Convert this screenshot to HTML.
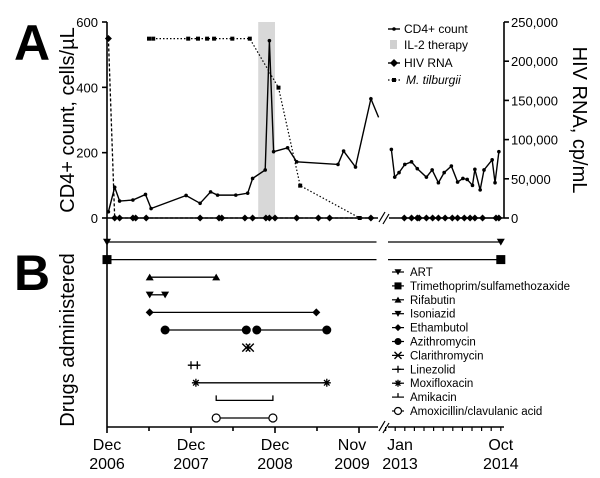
<!DOCTYPE html>
<html><head><meta charset="utf-8"><style>
html,body{margin:0;padding:0;background:#fff;}
svg{display:block;font-family:"Liberation Sans",Arial,sans-serif;}
</style></head><body>
<svg id="chart" width="600" height="478" viewBox="0 0 600 478"></svg>
<script>
// ---- data (x in months since Dec 2006) ----
const cd4Months=[0.2,1.1,1.8,3.7,5.5,6.3,11.3,13.3,14.8,15.8,18.4,20.1,20.8,22.6,23.2,23.8,25.8,27.1,33,33.8,35.5,37.7,38.8];
const cd4Values=[19,94,52,55,72,29,69,45,80,70,70,76,121,147,543,203,215,172,164,205,156,365,308];
const cd4Months2=[71.2,71.9,72.8,74,75.4,76.6,78.5,79.7,81,82.2,83.7,85,86.1,87,88.1,88.6,89.7,90.5,92.2,92.8,93.6];
const cd4Values2=[210,125,139,164,172,151,125,147,108,139,159,110,121,118,100,149,86,147,178,108,203];
const hivMonths=[0.2,1.1,1.8,3.7,4.1,5.6,13.3,16,16.4,19.7,20.8,22.7,23.2,24,27.1,30.2,31.8,37.7];
const hivValues=[229000,0,0,0,0,0,0,0,0,0,0,0,0,0,0,0,0,0];
const hivMonths2=[73.9,75.4,76.6,77,78.5,79.8,81,82.4,83.9,85,86.4,87.6,88.6,90.2,93,93.6];
const hivValues2=[0,0,0,0,0,0,0,0,0,0,0,0,0,0,0,0];
const mtMonths=[6,6.6,11.6,13,14.3,15.3,17.9,20.4,24.5,27.6,36.1];
const mtValues=[549,549,549,549,549,549,549,549,399,99,0];
const il2Range=[21.6,24];
const leftTicks=[0,200,400,600];
const rightTicks=[0,50000,100000,150000,200000,250000];
const rightTickLabels=["0","50,000","100,000","150,000","200,000","250,000"];
const drugNames=["ART","Trimethoprim/sulfamethozaxide","Rifabutin","Isoniazid","Ethambutol","Azithromycin","Clarithromycin","Linezolid","Moxifloxacin","Amikacin","Amoxicillin/clavulanic acid"];
const drugMarkers=["tri-down","square","tri-up","tri-down","diamond","circle","x","plus","star","tick","ocircle"];
const drugSegments=[[[0,38.5],[72,94]],[[0,38.5],[72,94]],[[6.1,15.6]],[[6.1,8.3]],[[6.1,29.9]],[[8.3,19.9],[21.4,31.4]],[[19.9,20.4]],[[12,12.9]],[[12.7,31.4]],[[15.6,23.7]],[[15.6,23.7]]];
const xTickMonths=[0,12,24,35,73,94];
const xTickLabels=[["Dec","2006"],["Dec","2007"],["Dec","2008"],["Nov","2009"],["Jan","2013"],["Oct","2014"]];

const svg=document.getElementById('chart');
const NS='http://www.w3.org/2000/svg';
function el(t,a,p){const e=document.createElementNS(NS,t);for(const k in a)e.setAttribute(k,a[k]);(p||svg).appendChild(e);return e;}
function xs(m){return m<=40?107+7*m:400+4.8*(m-73);}
const yL=v=>218-v*196/600;
const yR=v=>218-v*196/250000;
function txt(x,y,s,a,name){const t=el('text',Object.assign({x:x,y:y,fill:'#000'},a));t.textContent=s;return t;}

function marker(type,x,y,s,name){
  let e;const g=el('g',{});
  if(type==='tri-down')e=el('polygon',{points:`${x-s},${y-s*0.8} ${x+s},${y-s*0.8} ${x},${y+s*0.9}`,fill:'#000'},g);
  else if(type==='tri-up')e=el('polygon',{points:`${x-s},${y+s*0.8} ${x+s},${y+s*0.8} ${x},${y-s*0.9}`,fill:'#000'},g);
  else if(type==='square')e=el('rect',{x:x-s,y:y-s,width:2*s,height:2*s,fill:'#000'},g);
  else if(type==='diamond')e=el('polygon',{points:`${x},${y-s} ${x+s},${y} ${x},${y+s} ${x-s},${y}`,fill:'#000'},g);
  else if(type==='circle')e=el('circle',{cx:x,cy:y,r:s,fill:'#000'},g);
  else if(type==='ocircle')e=el('circle',{cx:x,cy:y,r:s,fill:'#fff',stroke:'#000','stroke-width':1.2},g);
  else if(type==='x'){el('path',{d:`M${x-s},${y-s}L${x+s},${y+s}M${x+s},${y-s}L${x-s},${y+s}`,stroke:'#000','stroke-width':1.4},g);}
  else if(type==='plus'){el('path',{d:`M${x},${y-s}L${x},${y+s}M${x-s*0.8},${y}L${x+s*0.8},${y}`,stroke:'#000','stroke-width':1.3},g);}
  else if(type==='star'){el('path',{d:`M${x-s},${y}L${x+s},${y}M${x},${y-s}L${x},${y+s}M${x-s*.7},${y-s*.7}L${x+s*.7},${y+s*.7}M${x+s*.7},${y-s*.7}L${x-s*.7},${y+s*.7}`,stroke:'#000','stroke-width':1.3},g);}
  else if(type==='tick'){el('path',{d:`M${x},${y}L${x},${y-s}`,stroke:'#000','stroke-width':1.3},g);}
  
  
  return g;
}

// panel letters
txt(14,60,'A',{'font-size':50,'font-weight':'bold'},'panel-a-label');
txt(14,290,'B',{'font-size':50,'font-weight':'bold'},'panel-b-label');

// IL-2 shading
const il2=el('rect',{x:xs(il2Range[0]),y:22,width:xs(il2Range[1])-xs(il2Range[0]),height:196,fill:'#d8d8d8'});



// axes top
const axes=el('g',{stroke:'#000','stroke-width':1.6,fill:'none'});


el('path',{d:'M107,22L107,427'},axes);
el('path',{d:'M504,22L504,218'},axes);
el('path',{d:'M107,218L378,218M389,218L504,218'},axes);
el('path',{d:'M379,222L385,212M383,224L389,214','stroke-width':1.2},axes);
leftTicks.forEach(v=>{el('path',{d:`M102,${yL(v)}L107,${yL(v)}`},axes);
  txt(98,yL(v)+5,String(v),{'font-size':13,'text-anchor':'end'},'left-tick-label');});
rightTicks.forEach((v,i)=>{el('path',{d:`M504,${yR(v)}L509,${yR(v)}`},axes);
  txt(511,yR(v)+5,rightTickLabels[i],{'font-size':13},'right-tick-label');});
txt(0,0,'CD4+ count, cells/µL',{'font-size':20,'text-anchor':'middle',transform:'translate(74,120) rotate(-90)'},'left-axis-title');
txt(0,0,'HIV RNA, cp/mL',{'font-size':20,'text-anchor':'middle',transform:'translate(573,120) rotate(90)'},'right-axis-title');

// series
function line(ms,vs,yf,attrs,name){const d=ms.map((m,i)=>(i?'L':'M')+xs(m)+','+yf(vs[i])).join('');const p=el('path',Object.assign({d:d,fill:'none',stroke:'#000'},attrs));}
line(mtMonths,mtValues,yL,{'stroke-width':1.2,'stroke-dasharray':'1.5,2'},'m-tilburgii-line');
mtMonths.forEach((m,i)=>{const r=el('rect',{x:xs(m)-2,y:yL(mtValues[i])-2,width:4,height:4,fill:'#000'});});
line(hivMonths,hivValues,yR,{'stroke-width':1.3,'stroke-dasharray':'3,2'},'hiv-rna-line');
line(hivMonths2,hivValues2,yR,{'stroke-width':1.3},'hiv-rna-line-2');
hivMonths.forEach((m,i)=>marker('diamond',xs(m),yR(hivValues[i]),3.5,'hiv-rna-point'));
hivMonths2.forEach((m,i)=>marker('diamond',xs(m),yR(hivValues2[i]),3.5,'hiv-rna-point'));
line(cd4Months,cd4Values,yL,{'stroke-width':1.4},'cd4-line');
line(cd4Months2,cd4Values2,yL,{'stroke-width':1.4},'cd4-line-2');
cd4Months.forEach((m,i)=>{if(i<cd4Months.length-1)marker('circle',xs(m),yL(cd4Values[i]),1.8,'cd4-point');});
cd4Months2.forEach((m,i)=>marker('circle',xs(m),yL(cd4Values2[i]),1.8,'cd4-point'));

// top legend
const lg=el('g',{});
el('path',{d:'M388,29L400,29',stroke:'#000','stroke-width':1.4},lg);el('circle',{cx:394,cy:29,r:1.8,fill:'#000'},lg);
txt(404,33,'CD4+ count',{'font-size':12},'legend-cd4');
el('rect',{x:390,y:40,width:7,height:9,fill:'#d0d0d0'},lg);
txt(404,49,'IL-2 therapy',{'font-size':12},'legend-il2');
el('path',{d:'M388,63L400,63',stroke:'#000','stroke-width':1.4},lg);el('polygon',{points:'394,59 398,63 394,67 390,63',fill:'#000'},lg);
txt(404,67,'HIV RNA',{'font-size':12},'legend-hiv');
el('path',{d:'M388,80L400,80',stroke:'#000','stroke-width':1.2,'stroke-dasharray':'1.5,2'},lg);el('rect',{x:392,y:78,width:4,height:4,fill:'#000'},lg);
txt(406,84,'M. tilburgii',{'font-size':12,'font-style':'italic'},'legend-mt');

// bottom panel
const rowY=i=>242+i*17.6;
const ba=el('g',{stroke:'#000','stroke-width':1.6,fill:'none'});

el('path',{d:'M107,427L378,427M388,427L504,427'},ba);
el('path',{d:'M379,431L385,421M383,433L389,423','stroke-width':1.2},ba);
for(let m=0;m<=36;m+=6)el('path',{d:`M${xs(m)},427L${xs(m)},${m%12===0?433:431}`},ba);
for(let m=70;m<=94;m+=2)el('path',{d:`M${xs(m)},427L${xs(m)},431`,'stroke-width':1.2},ba);
xTickMonths.forEach((m,i)=>{txt(xs(m),450,xTickLabels[i][0],{'font-size':16,'text-anchor':'middle'},'x-tick-label');txt(xs(m),469,xTickLabels[i][1],{'font-size':16,'text-anchor':'middle'},'x-tick-label');});
txt(0,0,'Drugs administered',{'font-size':20,'text-anchor':'middle',transform:'translate(74,340) rotate(-90)'},'bottom-axis-title');

drugSegments.forEach((segs,i)=>{const y=rowY(i);
  segs.forEach(s=>{
    const x1=s[0]>40?388:xs(s[0]);const x2=s[1]>40&&s[0]<=40?378:xs(s[1]);
    if(i===9){const p=el('path',{d:`M${xs(s[0])},${y-5}L${xs(s[0])},${y}L${xs(s[1])},${y}L${xs(s[1])},${y-5}`,stroke:'#000','stroke-width':1.3,fill:'none'});return;}
    const p=el('path',{d:`M${x1},${y}L${x2},${y}`,stroke:'#000','stroke-width':1.3});
    
    const sz=drugMarkers[i]==='square'?4.5:drugMarkers[i]==='circle'?4.5:4;
    if(i<2){if(s[0]===0)marker(drugMarkers[i],xs(s[0]),y,sz,'drug-marker');if(s[1]>40)marker(drugMarkers[i],xs(s[1]),y,sz,'drug-marker');}
    else{marker(drugMarkers[i],xs(s[0]),y,sz,'drug-marker');marker(drugMarkers[i],xs(s[1]),y,sz,'drug-marker');}
  });
  // legend row
  const ly=272+i*13.9;
  el('path',{d:`M392,${ly}L404,${ly}`,stroke:'#000','stroke-width':1.2});
  marker(drugMarkers[i],398,ly,drugMarkers[i]==='tick'?4:3.5,'legend-marker');
  txt(410,ly+4,drugNames[i],{'font-size':11.5},'legend-drug');
});
</script>
</body></html>
